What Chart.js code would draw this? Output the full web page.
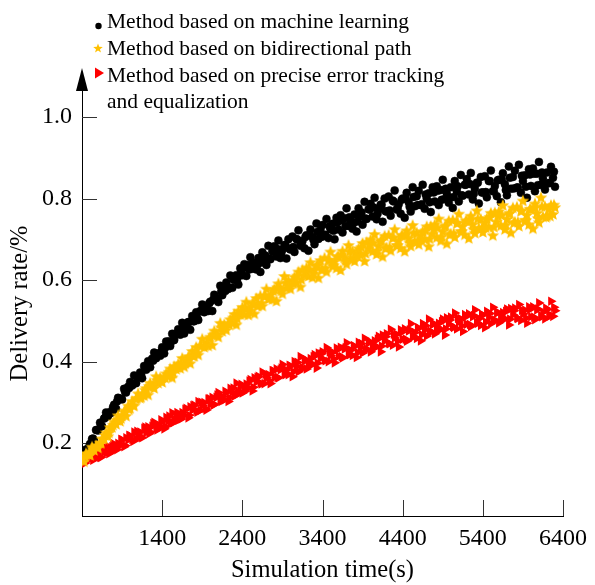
<!DOCTYPE html>
<html>
<head>
<meta charset="utf-8">
<script src="https://cdn.jsdelivr.net/npm/chart.js@4.4.0/dist/chart.umd.min.js"></script>
<style>
  html, body { margin: 0; padding: 0; background: #fff; }
  #wrap { width: 595px; height: 585px; position: relative; }
</style>
</head>
<body>
<div id="wrap"><canvas id="deliveryChart" width="595" height="585"></canvas></div>
<script>
// simulation times (s), first sampling run
const time = [
  400, 425, 450, 475, 500, 525, 550, 575,
  600, 625, 650, 675, 700, 725, 750, 775,
  800, 825, 850, 875, 900, 925, 950, 975,
  1000, 1025, 1050, 1075, 1100, 1125, 1150, 1175,
  1200, 1225, 1250, 1275, 1300, 1325, 1350, 1375,
  1400, 1425, 1450, 1475, 1500, 1525, 1550, 1575,
  1600, 1625, 1650, 1675, 1700, 1725, 1750, 1775,
  1800, 1825, 1850, 1875, 1900, 1925, 1950, 1975,
  2000, 2025, 2050, 2075, 2100, 2125, 2150, 2175,
  2200, 2225, 2250, 2275, 2300, 2325, 2350, 2375,
  2400, 2425, 2450, 2475, 2500, 2525, 2550, 2575,
  2600, 2625, 2650, 2675, 2700, 2725, 2750, 2775,
  2800, 2825, 2850, 2875, 2900, 2925, 2950, 2975,
  3000, 3025, 3050, 3075, 3100, 3125, 3150, 3175,
  3200, 3225, 3250, 3275, 3300, 3325, 3350, 3375,
  3400, 3425, 3450, 3475, 3500, 3525, 3550, 3575,
  3600, 3625, 3650, 3675, 3700, 3725, 3750, 3775,
  3800, 3825, 3850, 3875, 3900, 3925, 3950, 3975,
  4000, 4025, 4050, 4075, 4100, 4125, 4150, 4175,
  4200, 4225, 4250, 4275, 4300, 4325, 4350, 4375,
  4400, 4425, 4450, 4475, 4500, 4525, 4550, 4575,
  4600, 4625, 4650, 4675, 4700, 4725, 4750, 4775,
  4800, 4825, 4850, 4875, 4900, 4925, 4950, 4975,
  5000, 5025, 5050, 5075, 5100, 5125, 5150, 5175,
  5200, 5225, 5250, 5275, 5300, 5325, 5350, 5375,
  5400, 5425, 5450, 5475, 5500, 5525, 5550, 5575,
  5600, 5625, 5650, 5675, 5700, 5725, 5750, 5775,
  5800, 5825, 5850, 5875, 5900, 5925, 5950, 5975,
  6000, 6025, 6050, 6075, 6100, 6125, 6150, 6175,
  6200, 6225, 6250, 6275, 6300
];

// second sampling run
const time2 = [
  437, 487, 537, 587, 637, 687, 737, 787,
  837, 887, 937, 987, 1037, 1087, 1137, 1187,
  1237, 1287, 1337, 1387, 1437, 1487, 1537, 1587,
  1637, 1687, 1737, 1787, 1837, 1887, 1937, 1987,
  2037, 2087, 2137, 2187, 2237, 2287, 2337, 2387,
  2437, 2487, 2537, 2587, 2637, 2687, 2737, 2787,
  2837, 2887, 2937, 2987, 3037, 3087, 3137, 3187,
  3237, 3287, 3337, 3387, 3437, 3487, 3537, 3587,
  3637, 3687, 3737, 3787, 3837, 3887, 3937, 3987,
  4037, 4087, 4137, 4187, 4237, 4287, 4337, 4387,
  4437, 4487, 4537, 4587, 4637, 4687, 4737, 4787,
  4837, 4887, 4937, 4987, 5037, 5087, 5137, 5187,
  5237, 5287, 5337, 5387, 5437, 5487, 5537, 5587,
  5637, 5687, 5737, 5787, 5837, 5887, 5937, 5987,
  6037, 6087, 6137, 6187, 6237, 6287
];

// Method based on machine learning
const machineLearning = [
  0.162, 0.166, 0.184, 0.182, 0.198, 0.210, 0.207, 0.232,
  0.231, 0.250, 0.241, 0.260, 0.275, 0.266, 0.276, 0.275,
  0.294, 0.284, 0.311, 0.309, 0.307, 0.333, 0.324, 0.338,
  0.350, 0.341, 0.366, 0.347, 0.362, 0.373, 0.359, 0.389,
  0.380, 0.401, 0.386, 0.407, 0.422, 0.408, 0.419, 0.414,
  0.435, 0.420, 0.449, 0.444, 0.438, 0.468, 0.453, 0.467,
  0.479, 0.466, 0.495, 0.469, 0.486, 0.497, 0.478, 0.512,
  0.499, 0.521, 0.502, 0.524, 0.540, 0.521, 0.531, 0.524,
  0.547, 0.524, 0.564, 0.555, 0.546, 0.586, 0.563, 0.582,
  0.594, 0.578, 0.611, 0.581, 0.600, 0.612, 0.589, 0.629,
  0.612, 0.639, 0.610, 0.637, 0.656, 0.628, 0.639, 0.626,
  0.654, 0.620, 0.668, 0.653, 0.637, 0.684, 0.651, 0.671,
  0.683, 0.658, 0.697, 0.654, 0.675, 0.686, 0.653, 0.700,
  0.675, 0.707, 0.669, 0.701, 0.722, 0.684, 0.696, 0.678,
  0.710, 0.672, 0.724, 0.706, 0.688, 0.739, 0.701, 0.723,
  0.735, 0.708, 0.750, 0.703, 0.725, 0.738, 0.700, 0.753,
  0.724, 0.759, 0.717, 0.752, 0.776, 0.733, 0.746, 0.726,
  0.761, 0.719, 0.776, 0.756, 0.736, 0.792, 0.750, 0.774,
  0.787, 0.756, 0.802, 0.749, 0.773, 0.785, 0.743, 0.800,
  0.768, 0.805, 0.758, 0.795, 0.820, 0.773, 0.786, 0.763,
  0.800, 0.753, 0.814, 0.791, 0.768, 0.828, 0.781, 0.806,
  0.819, 0.784, 0.834, 0.775, 0.800, 0.813, 0.767, 0.828,
  0.793, 0.830, 0.784, 0.821, 0.846, 0.799, 0.813, 0.790,
  0.828, 0.777, 0.843, 0.818, 0.793, 0.858, 0.807, 0.834,
  0.848, 0.810, 0.863, 0.798, 0.825, 0.839, 0.788, 0.853,
  0.815, 0.855, 0.803, 0.843, 0.869, 0.818, 0.831, 0.806,
  0.846, 0.791, 0.862, 0.835, 0.808, 0.879, 0.824, 0.853,
  0.868, 0.827, 0.883, 0.814, 0.843, 0.857, 0.802, 0.872,
  0.831, 0.874, 0.818, 0.861, 0.890, 0.834, 0.849, 0.822,
  0.864, 0.838, 0.878, 0.851, 0.829
];
const machineLearning2 = [
  0.176, 0.190, 0.211, 0.232, 0.243, 0.262, 0.271, 0.288,
  0.302, 0.309, 0.326, 0.335, 0.345, 0.363, 0.369, 0.385,
  0.397, 0.402, 0.419, 0.424, 0.434, 0.450, 0.452, 0.469,
  0.478, 0.480, 0.497, 0.499, 0.507, 0.524, 0.526, 0.543,
  0.552, 0.553, 0.572, 0.573, 0.582, 0.602, 0.603, 0.622,
  0.631, 0.626, 0.643, 0.637, 0.643, 0.660, 0.653, 0.670,
  0.676, 0.667, 0.686, 0.677, 0.681, 0.699, 0.688, 0.706,
  0.711, 0.699, 0.718, 0.706, 0.711, 0.732, 0.721, 0.742,
  0.747, 0.733, 0.754, 0.740, 0.744, 0.766, 0.751, 0.773,
  0.778, 0.763, 0.785, 0.769, 0.771, 0.793, 0.776, 0.797,
  0.800, 0.780, 0.804, 0.784, 0.786, 0.810, 0.791, 0.815,
  0.819, 0.797, 0.824, 0.802, 0.804, 0.830, 0.808, 0.834,
  0.836, 0.812, 0.839, 0.815, 0.816, 0.843, 0.818, 0.845,
  0.847, 0.821, 0.851, 0.825, 0.827, 0.856, 0.829, 0.859,
  0.861, 0.833, 0.864, 0.836, 0.838, 0.866
];

// Method based on bidirectional path
const bidirectional = [
  0.163, 0.155, 0.175, 0.173, 0.171, 0.191, 0.183, 0.194,
  0.189, 0.201, 0.211, 0.211, 0.226, 0.217, 0.239, 0.239,
  0.253, 0.247, 0.268, 0.254, 0.268, 0.277, 0.267, 0.292,
  0.286, 0.303, 0.292, 0.309, 0.322, 0.311, 0.320, 0.317,
  0.335, 0.319, 0.348, 0.341, 0.335, 0.364, 0.348, 0.361,
  0.350, 0.363, 0.371, 0.364, 0.383, 0.361, 0.389, 0.382,
  0.395, 0.384, 0.409, 0.388, 0.403, 0.412, 0.396, 0.426,
  0.414, 0.436, 0.417, 0.439, 0.456, 0.436, 0.446, 0.439,
  0.461, 0.441, 0.476, 0.468, 0.461, 0.495, 0.475, 0.492,
  0.478, 0.494, 0.504, 0.495, 0.517, 0.491, 0.525, 0.516,
  0.534, 0.516, 0.547, 0.515, 0.533, 0.543, 0.518, 0.556,
  0.538, 0.562, 0.537, 0.561, 0.579, 0.554, 0.564, 0.553,
  0.578, 0.549, 0.592, 0.579, 0.567, 0.610, 0.581, 0.600,
  0.579, 0.598, 0.608, 0.595, 0.621, 0.584, 0.626, 0.613,
  0.631, 0.610, 0.644, 0.607, 0.625, 0.636, 0.606, 0.649,
  0.626, 0.655, 0.621, 0.650, 0.670, 0.635, 0.646, 0.630,
  0.659, 0.625, 0.672, 0.656, 0.640, 0.686, 0.652, 0.672,
  0.647, 0.667, 0.678, 0.662, 0.691, 0.647, 0.694, 0.678,
  0.700, 0.671, 0.713, 0.664, 0.685, 0.696, 0.658, 0.709,
  0.680, 0.711, 0.673, 0.704, 0.725, 0.686, 0.698, 0.679,
  0.710, 0.671, 0.722, 0.703, 0.684, 0.735, 0.696, 0.717,
  0.688, 0.709, 0.720, 0.701, 0.732, 0.683, 0.733, 0.714,
  0.737, 0.705, 0.751, 0.697, 0.720, 0.732, 0.690, 0.746,
  0.714, 0.748, 0.706, 0.740, 0.763, 0.720, 0.733, 0.712,
  0.746, 0.703, 0.758, 0.737, 0.716, 0.771, 0.728, 0.750,
  0.718, 0.741, 0.752, 0.731, 0.765, 0.710, 0.766, 0.744,
  0.769, 0.734, 0.784, 0.725, 0.750, 0.763, 0.717, 0.778,
  0.743, 0.780, 0.733, 0.770, 0.795, 0.748, 0.760, 0.737,
  0.774, 0.727, 0.788, 0.765, 0.742, 0.803, 0.756, 0.781,
  0.758, 0.775, 0.784, 0.762, 0.779
];
const bidirectional2 = [
  0.168, 0.173, 0.186, 0.191, 0.201, 0.220, 0.226, 0.245,
  0.257, 0.261, 0.280, 0.283, 0.293, 0.311, 0.313, 0.331,
  0.340, 0.339, 0.355, 0.354, 0.361, 0.375, 0.373, 0.387,
  0.395, 0.396, 0.413, 0.414, 0.422, 0.439, 0.440, 0.457,
  0.466, 0.465, 0.484, 0.483, 0.491, 0.508, 0.506, 0.523,
  0.531, 0.525, 0.543, 0.537, 0.544, 0.562, 0.556, 0.574,
  0.582, 0.574, 0.594, 0.586, 0.592, 0.611, 0.602, 0.621,
  0.627, 0.616, 0.637, 0.626, 0.630, 0.650, 0.637, 0.658,
  0.662, 0.648, 0.670, 0.655, 0.659, 0.681, 0.666, 0.689,
  0.692, 0.673, 0.698, 0.679, 0.681, 0.705, 0.686, 0.710,
  0.712, 0.692, 0.716, 0.696, 0.698, 0.722, 0.702, 0.726,
  0.729, 0.707, 0.734, 0.712, 0.715, 0.741, 0.720, 0.746,
  0.748, 0.725, 0.751, 0.728, 0.729, 0.755, 0.731, 0.758,
  0.760, 0.736, 0.765, 0.741, 0.743, 0.771, 0.747, 0.775,
  0.777, 0.752, 0.781, 0.755, 0.758, 0.785
];

// Method based on precise error tracking and equalization
const errorTracking = [
  0.155, 0.166, 0.156, 0.166, 0.174, 0.164, 0.169, 0.164,
  0.175, 0.165, 0.183, 0.179, 0.175, 0.192, 0.183, 0.191,
  0.182, 0.193, 0.199, 0.194, 0.208, 0.191, 0.213, 0.208,
  0.218, 0.209, 0.227, 0.210, 0.220, 0.227, 0.213, 0.236,
  0.226, 0.240, 0.227, 0.241, 0.251, 0.237, 0.244, 0.238,
  0.253, 0.235, 0.263, 0.255, 0.247, 0.274, 0.257, 0.269,
  0.256, 0.268, 0.275, 0.268, 0.285, 0.262, 0.289, 0.281,
  0.293, 0.280, 0.302, 0.280, 0.292, 0.299, 0.281, 0.308,
  0.295, 0.312, 0.295, 0.312, 0.324, 0.306, 0.314, 0.306,
  0.324, 0.302, 0.334, 0.325, 0.315, 0.347, 0.325, 0.339,
  0.323, 0.337, 0.345, 0.336, 0.356, 0.328, 0.360, 0.350,
  0.364, 0.348, 0.374, 0.346, 0.360, 0.368, 0.346, 0.378,
  0.362, 0.382, 0.360, 0.380, 0.393, 0.371, 0.379, 0.368,
  0.389, 0.363, 0.400, 0.387, 0.375, 0.412, 0.385, 0.401,
  0.382, 0.398, 0.407, 0.394, 0.417, 0.384, 0.421, 0.408,
  0.424, 0.404, 0.434, 0.400, 0.415, 0.423, 0.397, 0.433,
  0.413, 0.435, 0.409, 0.431, 0.446, 0.419, 0.428, 0.415,
  0.437, 0.410, 0.447, 0.434, 0.421, 0.457, 0.431, 0.446,
  0.424, 0.442, 0.451, 0.437, 0.462, 0.424, 0.465, 0.451,
  0.468, 0.445, 0.479, 0.440, 0.458, 0.467, 0.436, 0.478,
  0.455, 0.480, 0.450, 0.475, 0.493, 0.462, 0.471, 0.457,
  0.482, 0.451, 0.493, 0.478, 0.463, 0.504, 0.474, 0.491,
  0.468, 0.485, 0.494, 0.479, 0.504, 0.465, 0.507, 0.492,
  0.509, 0.486, 0.519, 0.480, 0.497, 0.505, 0.474, 0.515,
  0.492, 0.517, 0.486, 0.510, 0.527, 0.496, 0.505, 0.489,
  0.514, 0.483, 0.523, 0.508, 0.493, 0.533, 0.502, 0.519,
  0.495, 0.512, 0.520, 0.505, 0.529, 0.490, 0.530, 0.515,
  0.531, 0.507, 0.540, 0.501, 0.517, 0.526, 0.494, 0.534,
  0.510, 0.534, 0.503, 0.527, 0.544, 0.512, 0.521, 0.505,
  0.528, 0.516, 0.548, 0.511, 0.525
];
const errorTracking2 = [
  0.151, 0.174, 0.158, 0.181, 0.165, 0.190, 0.174, 0.199,
  0.184, 0.209, 0.194, 0.219, 0.204, 0.229, 0.214, 0.239,
  0.223, 0.248, 0.232, 0.257, 0.241, 0.266, 0.250, 0.275,
  0.259, 0.283, 0.268, 0.292, 0.276, 0.300, 0.285, 0.309,
  0.293, 0.318, 0.302, 0.327, 0.311, 0.335, 0.320, 0.344,
  0.328, 0.352, 0.337, 0.361, 0.345, 0.369, 0.353, 0.377,
  0.361, 0.384, 0.368, 0.391, 0.375, 0.398, 0.382, 0.405,
  0.389, 0.412, 0.396, 0.419, 0.402, 0.424, 0.407, 0.429,
  0.412, 0.434, 0.417, 0.439, 0.422, 0.444, 0.427, 0.449,
  0.432, 0.455, 0.438, 0.461, 0.444, 0.467, 0.450, 0.472,
  0.455, 0.478, 0.461, 0.483, 0.466, 0.488, 0.471, 0.493,
  0.476, 0.498, 0.480, 0.502, 0.484, 0.506, 0.488, 0.510,
  0.491, 0.513, 0.494, 0.516, 0.497, 0.518, 0.499, 0.521,
  0.502, 0.523, 0.504, 0.525, 0.506, 0.526, 0.507, 0.528,
  0.509, 0.529, 0.510, 0.531, 0.512, 0.533
];

const xTicks = [1400, 2400, 3400, 4400, 5400, 6400];
const yTicks = [0.2, 0.4, 0.6, 0.8, 1.0];
const seriesNames = [
  'Method based on machine learning',
  'Method based on bidirectional path',
  ['Method based on precise error tracking', 'and equalization']
];

const BLACK = '#000000';
const YELLOW = '#FFC000';
const RED = '#FF0000';
const SERIF = '"Liberation Serif", "Times New Roman", serif';

function starPath(ctx, cx, cy, outer, inner) {
  ctx.beginPath();
  for (let i = 0; i < 10; i++) {
    const r = i % 2 === 0 ? outer : inner;
    const a = -Math.PI / 2 + i * Math.PI / 5;
    const px = cx + Math.cos(a) * r;
    const py = cy + Math.sin(a) * r;
    if (i === 0) ctx.moveTo(px, py); else ctx.lineTo(px, py);
  }
  ctx.closePath();
}

// filled five-point star used as point image
const starImg = document.createElement('canvas');
starImg.width = 14;
starImg.height = 14;
(function () {
  const c = starImg.getContext('2d');
  c.fillStyle = YELLOW;
  starPath(c, 7, 7.5, 6.6, 2.9);
  c.fill();
})();

const toPoints = (ts, ys) => ts.map((t, i) => ({ x: t, y: ys[i] }));

const axisDecor = {
  id: 'axisDecor',
  beforeDatasetsDraw(chart) {
    const { ctx, chartArea, scales } = chart;
    ctx.save();
    ctx.strokeStyle = '#333';
    ctx.lineWidth = 1;
    xTicks.forEach(v => {
      const px = Math.round(scales.x.getPixelForValue(v)) + 0.5;
      ctx.beginPath();
      ctx.moveTo(px, chartArea.bottom);
      ctx.lineTo(px, chartArea.bottom - 16);
      ctx.stroke();
    });
    yTicks.forEach(v => {
      const py = Math.round(scales.y.getPixelForValue(v)) + 0.5;
      ctx.beginPath();
      ctx.moveTo(chartArea.left, py);
      ctx.lineTo(chartArea.left + 15, py);
      ctx.stroke();
    });
    ctx.restore();
  },
  afterDraw(chart) {
    const { ctx, chartArea } = chart;
    ctx.save();
    // arrow head on the y axis
    const ax = chartArea.left;
    ctx.fillStyle = '#000';
    ctx.beginPath();
    ctx.moveTo(ax, chartArea.top - 23);
    ctx.lineTo(ax - 6, chartArea.top);
    ctx.lineTo(ax + 6, chartArea.top);
    ctx.closePath();
    ctx.fill();

    // legend
    ctx.font = '21.5px ' + SERIF;
    ctx.fillStyle = '#000';
    ctx.textBaseline = 'alphabetic';
    ctx.textAlign = 'left';
    const tx = 107;
    ctx.fillText(seriesNames[0], tx, 28);
    ctx.fillText(seriesNames[1], tx, 55);
    ctx.fillText(seriesNames[2][0], tx, 82);
    ctx.fillText(seriesNames[2][1], tx, 108);

    ctx.beginPath();
    ctx.arc(98.5, 26, 3.2, 0, Math.PI * 2);
    ctx.fillStyle = BLACK;
    ctx.fill();

    ctx.fillStyle = YELLOW;
    starPath(ctx, 98, 48.5, 5, 2.1);
    ctx.fill();

    ctx.fillStyle = RED;
    ctx.beginPath();
    ctx.moveTo(95, 67.5);
    ctx.lineTo(104, 73);
    ctx.lineTo(95, 78.5);
    ctx.closePath();
    ctx.fill();
    ctx.restore();
  }
};

const ctx = document.getElementById('deliveryChart').getContext('2d');
const deliveryChart = new Chart(ctx, {
  type: 'scatter',
  data: {
    datasets: [
      {
        label: seriesNames[0],
        data: toPoints(time, machineLearning).concat(toPoints(time2, machineLearning2)),
        pointStyle: 'circle',
        pointRadius: 4,
        pointBorderWidth: 0.5,
        backgroundColor: BLACK,
        borderColor: BLACK,
        order: 1
      },
      {
        label: seriesNames[1],
        data: toPoints(time, bidirectional).concat(toPoints(time2, bidirectional2)),
        pointStyle: starImg,
        backgroundColor: YELLOW,
        borderColor: YELLOW,
        order: 0
      },
      {
        label: seriesNames[2].join(' '),
        data: toPoints(time, errorTracking).concat(toPoints(time2, errorTracking2)),
        pointStyle: 'triangle',
        rotation: 90,
        pointRadius: 5.6,
        pointBorderWidth: 0,
        backgroundColor: RED,
        borderColor: RED,
        order: 2
      }
    ]
  },
  options: {
    responsive: false,
    animation: false,
    events: [],
    layout: { padding: { top: 91, right: 24, left: 0, bottom: 0 } },
    plugins: {
      legend: { display: false },
      tooltip: { enabled: false }
    },
    scales: {
      x: {
        type: 'linear',
        min: 400,
        max: 6400,
        afterFit: s => { s.height = 69; },
        afterBuildTicks: s => { s.ticks = xTicks.map(v => ({ value: v })); },
        grid: { display: false, drawTicks: false },
        border: { display: true, color: '#000', width: 1 },
        ticks: {
          color: '#000',
          padding: 8,
          maxRotation: 0,
          font: { family: SERIF, size: 24 },
          callback: v => String(v)
        },
        title: {
          display: true,
          text: 'Simulation time(s)',
          color: '#000',
          padding: { top: 0, bottom: 0 },
          font: { family: SERIF, size: 24.5 }
        }
      },
      y: {
        type: 'linear',
        min: 0.021,
        max: 1.064,
        afterFit: s => { s.width = 82; },
        afterBuildTicks: s => { s.ticks = yTicks.map(v => ({ value: v })); },
        grid: { display: false, drawTicks: false },
        border: { display: true, color: '#000', width: 1 },
        ticks: {
          color: '#000',
          padding: 10,
          font: { family: SERIF, size: 24 },
          callback: v => Number(v).toFixed(1)
        },
        title: {
          display: true,
          text: 'Delivery rate/%',
          color: '#000',
          padding: { top: 6, bottom: 0 },
          font: { family: SERIF, size: 24.5 }
        }
      }
    }
  },
  plugins: [axisDecor]
});
</script>
</body>
</html>
